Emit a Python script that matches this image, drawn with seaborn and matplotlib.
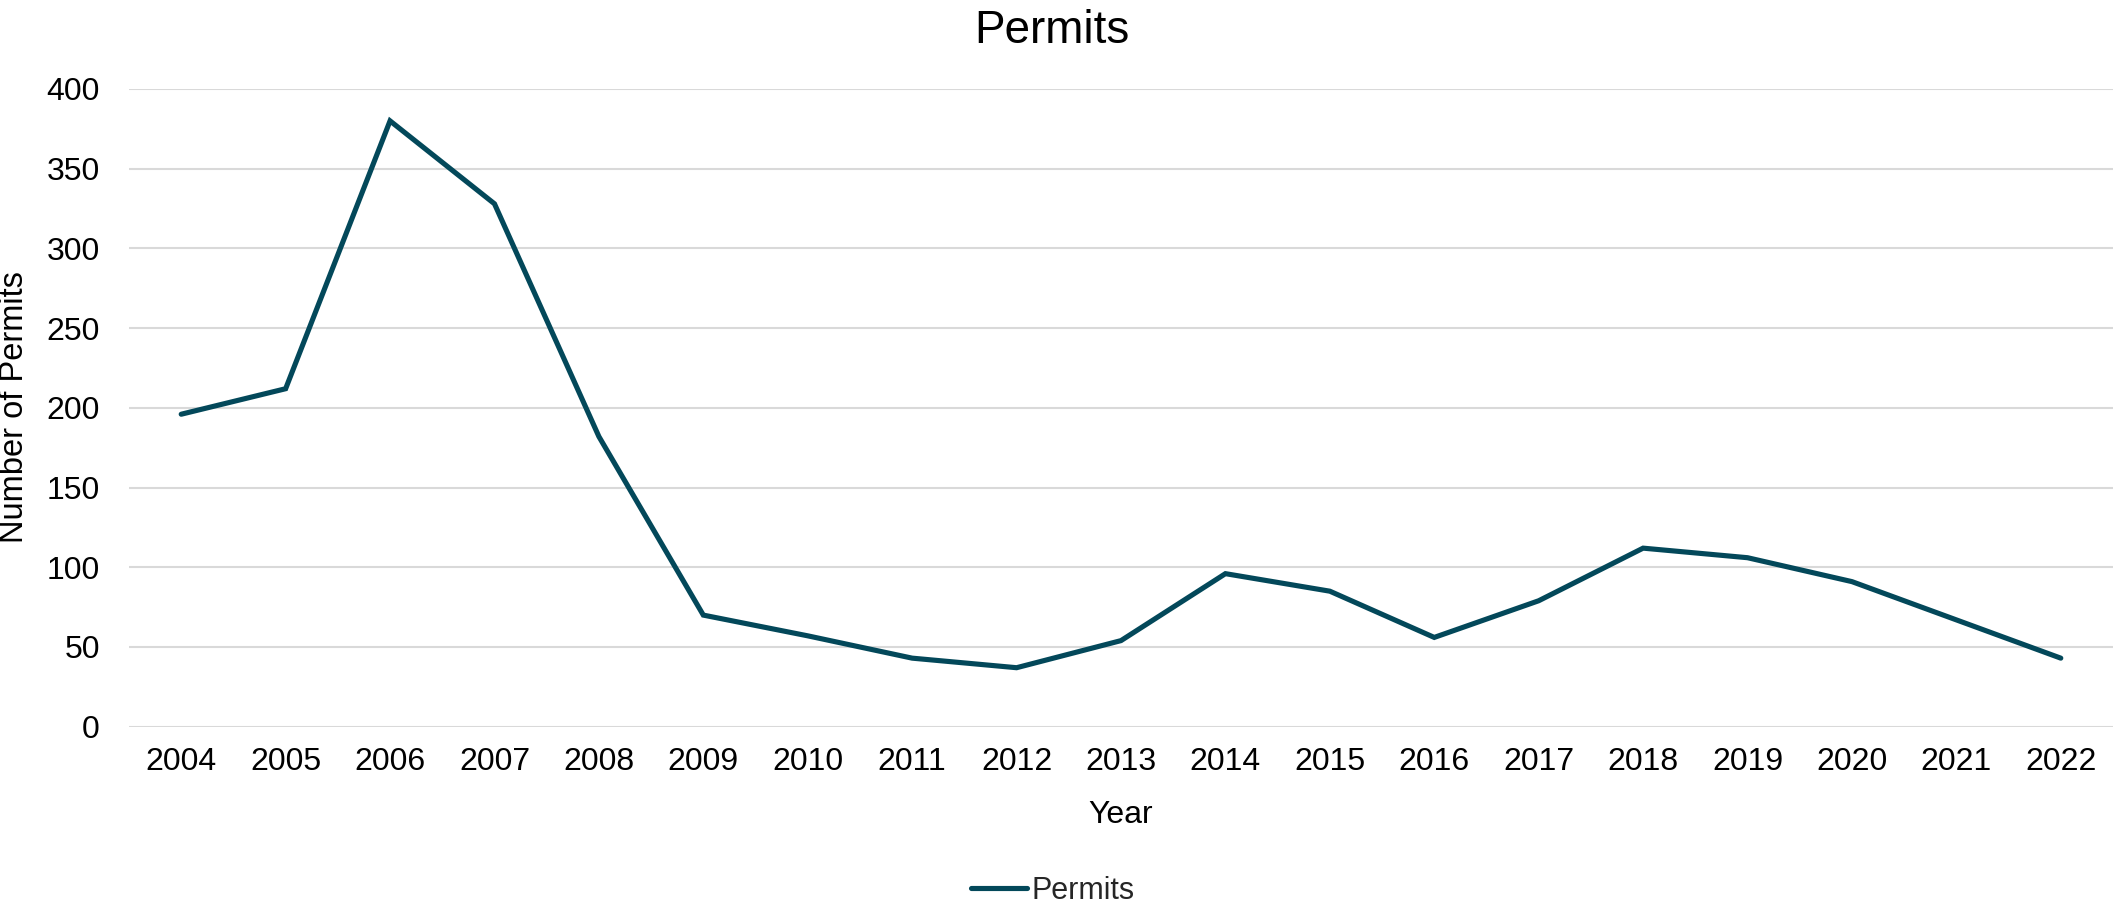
import matplotlib
matplotlib.use("Agg")
import matplotlib.pyplot as plt
import seaborn as sns
import pandas as pd

years = ["2004", "2005", "2006", "2007", "2008", "2009", "2010", "2011", "2012", "2013",
         "2014", "2015", "2016", "2017", "2018", "2019", "2020", "2021", "2022"]
permits = [196, 212, 380, 328, 182, 70, 57, 43, 37, 54,
           96, 85, 56, 79, 112, 106, 91, 67, 43]
y_ticks = [0, 50, 100, 150, 200, 250, 300, 350, 400]

sns.set_theme(style="white")
plt.rcParams['font.family'] = ['Liberation Sans', 'DejaVu Sans']

df = pd.DataFrame({"Year": years, "Permits": permits})

W, H = 2113, 907
fig = plt.figure(figsize=(W / 100, H / 100), dpi=100)
ax_left, ax_right, ax_top, ax_bottom = 129, 2113, 89, 726.7
ax = fig.add_axes([ax_left / W, (H - ax_bottom) / H, (ax_right - ax_left) / W, (ax_bottom - ax_top) / H])

line_color = "#03485A"
sns.lineplot(data=df, x="Year", y="Permits", ax=ax, color=line_color, linewidth=3.7,
             solid_capstyle="round", solid_joinstyle="miter", label="Permits", sort=False)

ax.set_xlim(-0.5, len(years) - 0.5)
ax.set_ylim(0, 400)
ax.set_yticks(y_ticks)
ax.set_xticks(range(len(years)))
ax.set_xticklabels(years)

ax.grid(axis="y", color="#D9D9D9", linewidth=1.5)
ax.grid(axis="x", visible=False)
ax.set_axisbelow(True)
for s in ax.spines.values():
    s.set_visible(False)

ax.tick_params(axis="y", length=0, pad=21, labelsize=23, labelcolor="black")
ax.tick_params(axis="x", length=0, pad=14.5, labelsize=23, labelcolor="black")

ax.set_xlabel("Year", fontsize=23, color="black")
ax.xaxis.label.set_va("baseline")
ax.xaxis.set_label_coords(0.5, (H - 823 - (H - ax_bottom)) / (ax_bottom - ax_top))

ax.set_ylabel("Number of Permits", fontsize=23.5, color="black")
ax.yaxis.label.set_va("center")
ax.yaxis.set_label_coords((15 - ax_left) / (ax_right - ax_left), ((H - 407) - (H - ax_bottom)) / (ax_bottom - ax_top))

fig.text(1052 / W, (H - 43) / H, "Permits", ha="center", va="baseline", fontsize=33, color="black")

leg = ax.legend(loc="center", bbox_to_anchor=(1053 / W, (H - 891) / H), bbox_transform=fig.transFigure,
                frameon=False, fontsize=22, handlelength=1.85, handletextpad=0.15)
for h in leg.get_lines():
    h.set_solid_capstyle("round")
    h.set_linewidth(3.7)

fig.savefig("out.png", dpi=100, facecolor="white")
